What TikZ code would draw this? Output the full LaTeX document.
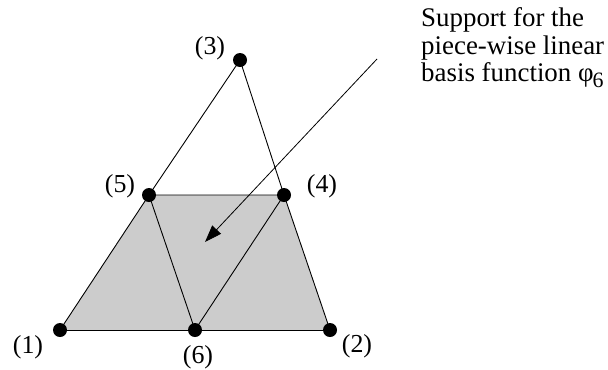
\documentclass[tikz,border=0pt]{standalone}
\usepackage{fontspec}
\setmainfont{Liberation Serif}
\usetikzlibrary{arrows.meta}
\begin{document}
\begin{tikzpicture}[x=1bp,y=-1bp,
  vert/.style={circle,fill=black,inner sep=0pt,minimum size=14bp},
  lbl/.style={inner sep=0pt,font=\fontsize{26}{27}\selectfont},
  edge/.style={draw=black,line width=0.9bp},
  pointer/.style={draw=black,line width=0.8bp,-{Triangle[length=17bp,width=12bp]}}]
\useasboundingbox (0,0) rectangle (608,369);
\coordinate (p1) at (60,330);
\coordinate (p2) at (330,330);
\coordinate (p6) at (195,330);
\coordinate (p5) at (149,195);
\coordinate (p4) at (284,195);
\coordinate (p3) at (240,60);
\fill[black!20] (p1) -- (p2) -- (p4) -- (p5) -- cycle;
\draw[edge] (p3) -- (p5) -- (p4) -- cycle;
\draw[edge] (p1) -- (p5) -- (p6) -- (p4) -- (p2);
\draw[edge] (p1) -- (p2);
\node[vert] (n1) at (p1) {};
\node[vert] (n2) at (p2) {};
\node[vert] (n6) at (p6) {};
\node[vert] (n5) at (p5) {};
\node[vert] (n4) at (p4) {};
\node[vert] (n3) at (p3) {};
\node[lbl] (l1) at (28,347) {(1)};
\node[lbl] (l2) at (357,346) {(2)};
\node[lbl] (l6) at (198,357) {(6)};
\node[lbl] (l5) at (120,186) {(5)};
\node[lbl] (l4) at (322,186) {(4)};
\node[lbl] (l3) at (210,48) {(3)};
\node[inner sep=0pt,font=\fontsize{27}{27.5}\selectfont,align=left,anchor=north west] (txt) at (421,7.5)
  {Support for the\\piece-wise linear\\basis function φ\kern-1bp\raisebox{-6bp}{\fontsize{22}{22}\selectfont 6}};
\coordinate (s) at (377,59);
\coordinate (t) at (205,242);
\draw[pointer] (s) -- (t);
\end{tikzpicture}
\end{document}
